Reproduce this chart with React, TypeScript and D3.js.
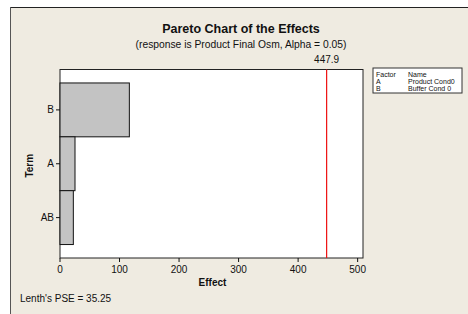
import React from "react";
import * as d3 from "d3";

const terms = ["B", "A", "AB"];
const effects = [116.5, 25.2, 22.4];
const effectTicks = [0, 100, 200, 300, 400, 500];
const criticalValue = 447.9;
const factorCodes = ["A", "B"];
const factorNames = ["Product Cond0", "Buffer Cond 0"];

export default function App() {
  const width = 468;
  const height = 314;
  const margin = { top: 69.5, left: 60, bottom: 56, right: 105 };
  const iwidth = width - margin.left - margin.right;
  const iheight = height - margin.top - margin.bottom;
  const font = "'Liberation Sans', Arial, sans-serif";

  // effect scale
  const x = d3.scaleLinear().domain([0, 509]).range([0, iwidth]);
  // term scale
  const y = d3
    .scaleBand<string>()
    .domain(terms)
    .range([0, iheight])
    .paddingInner(0)
    .paddingOuter(0.25);

  return (
    <svg
      width={width}
      height={height}
      style={{ position: "absolute", left: 0, top: 0, fontFamily: font }}
    >
      <rect x={0} y={0} width={width} height={height} fill="#ffffff" />
      <rect x={10} y={7} width={width - 10} height={height - 7} fill="#efebe1" />
      <line x1={10} y1={7.5} x2={width} y2={7.5} stroke="#222" strokeWidth={1} />
      <line x1={10.5} y1={7} x2={10.5} y2={height} stroke="#555" strokeWidth={1} />

      <text x={241} y={33} textAnchor="middle" fontSize={12.5} fontWeight="bold" fill="#111">
        Pareto Chart of the Effects
      </text>
      <text x={241} y={48} textAnchor="middle" fontSize={10.3} fill="#111">
        (response is Product Final Osm, Alpha = 0.05)
      </text>

      <g transform={`translate(${margin.left},${margin.top})`}>
        <rect x={0} y={0} width={iwidth} height={iheight} fill="#ffffff" stroke="#222" strokeWidth={1} />
        {terms.map((t, i) => (
          <rect
            key={t}
            x={x(0)}
            y={y(t)}
            width={x(effects[i]) - x(0)}
            height={y.bandwidth()}
            fill="#c3c3c3"
            stroke="#111"
            strokeWidth={1}
          />
        ))}
        <line
          x1={x(criticalValue)}
          x2={x(criticalValue)}
          y1={0}
          y2={iheight}
          stroke="#ee1111"
          strokeWidth={1.2}
        />
        <text x={x(criticalValue)} y={-7} textAnchor="middle" fontSize={10} fill="#111">
          {criticalValue}
        </text>

        {/* x axis */}
        {effectTicks.map((t) => (
          <g key={t} transform={`translate(${x(t)},${iheight})`}>
            <line y1={0} y2={4} stroke="#111" />
            <text y={15} textAnchor="middle" fontSize={10} fill="#111">
              {t}
            </text>
          </g>
        ))}
        <text x={iwidth / 2 + 1} y={iheight + 28} textAnchor="middle" fontSize={10} fontWeight="bold" fill="#111">
          Effect
        </text>

        {/* y axis */}
        {terms.map((t) => (
          <g key={t} transform={`translate(0,${(y(t) ?? 0) + y.bandwidth() / 2})`}>
            <line x1={-4} x2={0} stroke="#111" />
            <text x={-6} dy="0.35em" textAnchor="end" fontSize={10} fill="#111">
              {t}
            </text>
          </g>
        ))}
        <text
          transform={`translate(-27,${iheight / 2 + 2}) rotate(-90)`}
          textAnchor="middle"
          fontSize={10}
          fontWeight="bold"
          fill="#111"
        >
          Term
        </text>
      </g>

      {/* legend */}
      <g transform="translate(373,68)">
        <rect x={0} y={0} width={89} height={25} fill="#ffffff" stroke="#333" strokeWidth={1} />
        <text x={3} y={8.5} fontSize={7} fill="#111">Factor</text>
        <text x={35} y={8.5} fontSize={7} fill="#111">Name</text>
        {factorCodes.map((c, i) => (
          <g key={c}>
            <text x={3} y={16 + i * 7} fontSize={7} fill="#111">{c}</text>
            <text x={35} y={16 + i * 7} fontSize={7} fill="#111">{factorNames[i]}</text>
          </g>
        ))}
      </g>

      <text x={20} y={302} fontSize={10} fill="#111">
        Lenth's PSE = 35.25
      </text>
    </svg>
  );
}
